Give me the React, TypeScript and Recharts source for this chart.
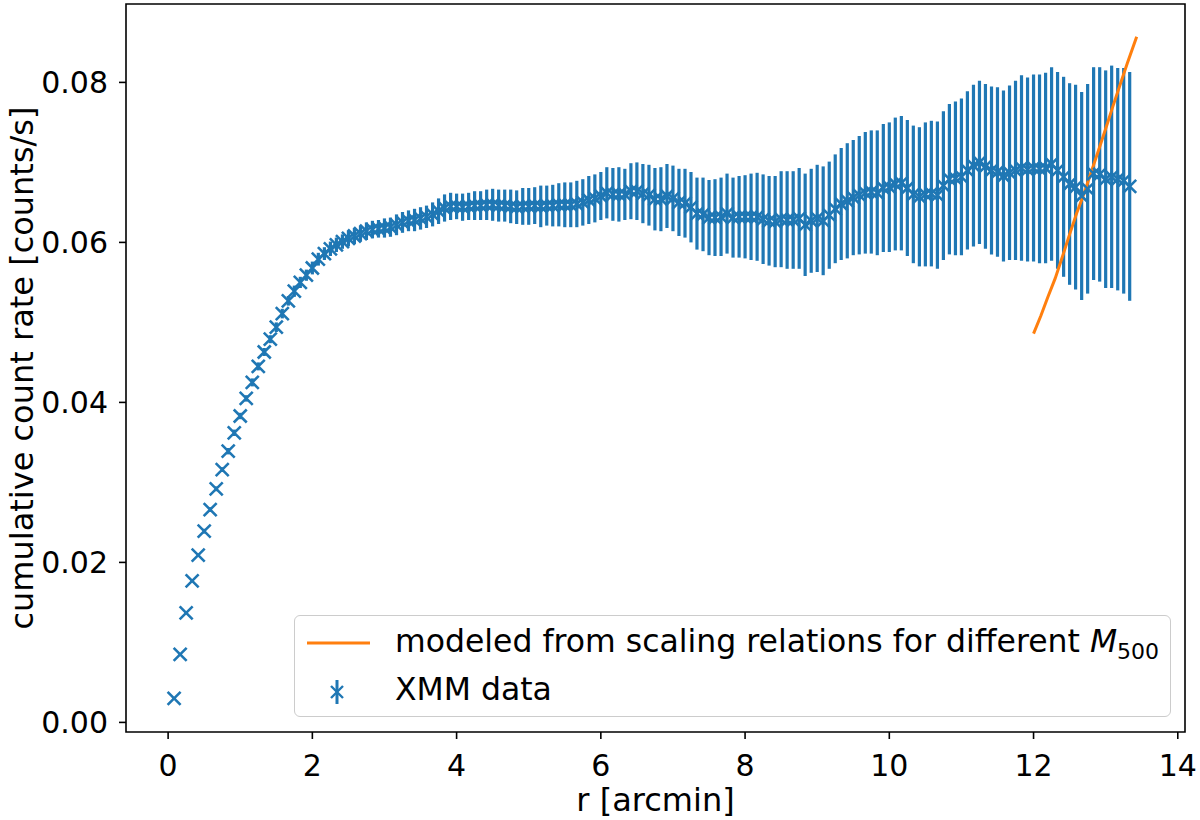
import React from 'react';
import { ComposedChart, Scatter, Line, XAxis, YAxis, ErrorBar, ReferenceArea, Legend, Label } from 'recharts';

// radial bins of 5 arcsec, in arcmin
const radius = [
  0.083, 0.167, 0.25, 0.333, 0.417, 0.5, 0.583, 0.667, 0.75, 0.833, 0.917, 1.0,
  1.083, 1.167, 1.25, 1.333, 1.417, 1.5, 1.583, 1.667, 1.75, 1.833, 1.917, 2.0,
  2.083, 2.167, 2.25, 2.333, 2.417, 2.5, 2.583, 2.667, 2.75, 2.833, 2.917, 3.0,
  3.083, 3.167, 3.25, 3.333, 3.417, 3.5, 3.583, 3.667, 3.75, 3.833, 3.917, 4.0,
  4.083, 4.167, 4.25, 4.333, 4.417, 4.5, 4.583, 4.667, 4.75, 4.833, 4.917, 5.0,
  5.083, 5.167, 5.25, 5.333, 5.417, 5.5, 5.583, 5.667, 5.75, 5.833, 5.917, 6.0,
  6.083, 6.167, 6.25, 6.333, 6.417, 6.5, 6.583, 6.667, 6.75, 6.833, 6.917, 7.0,
  7.083, 7.167, 7.25, 7.333, 7.417, 7.5, 7.583, 7.667, 7.75, 7.833, 7.917, 8.0,
  8.083, 8.167, 8.25, 8.333, 8.417, 8.5, 8.583, 8.667, 8.75, 8.833, 8.917, 9.0,
  9.083, 9.167, 9.25, 9.333, 9.417, 9.5, 9.583, 9.667, 9.75, 9.833, 9.917, 10.0,
  10.083, 10.167, 10.25, 10.333, 10.417, 10.5, 10.583, 10.667, 10.75, 10.833, 10.917, 11.0,
  11.083, 11.167, 11.25, 11.333, 11.417, 11.5, 11.583, 11.667, 11.75, 11.833, 11.917, 12.0,
  12.083, 12.167, 12.25, 12.333, 12.417, 12.5, 12.583, 12.667, 12.75, 12.833, 12.917, 13.0,
  13.083, 13.167, 13.25, 13.333,
];

const countRate = [
  0.0030, 0.0085, 0.0137, 0.0177, 0.0209, 0.0239, 0.0266, 0.0292, 0.0316, 0.0339, 0.0362, 0.0383,
  0.0405, 0.0425, 0.0445, 0.0463, 0.0479, 0.0494, 0.0511, 0.0527, 0.0539, 0.0550, 0.0559, 0.0568,
  0.0579, 0.0586, 0.0592, 0.0597, 0.0601, 0.0605, 0.0608, 0.0611, 0.0614, 0.0616, 0.0617, 0.0618,
  0.0619, 0.0622, 0.0625, 0.0627, 0.0628, 0.0630, 0.0632, 0.0635, 0.0639, 0.0643, 0.0645, 0.0645,
  0.0644, 0.0645, 0.0646, 0.0646, 0.0647, 0.0647, 0.0646, 0.0646, 0.0645, 0.0644, 0.0645, 0.0645,
  0.0646, 0.0645, 0.0646, 0.0646, 0.0647, 0.0647, 0.0647, 0.0648, 0.0650, 0.0653, 0.0655, 0.0658,
  0.0662, 0.0660, 0.0660, 0.0660, 0.0664, 0.0664, 0.0661, 0.0659, 0.0654, 0.0654, 0.0658, 0.0655,
  0.0650, 0.0649, 0.0644, 0.0636, 0.0635, 0.0631, 0.0631, 0.0632, 0.0636, 0.0631, 0.0632, 0.0632,
  0.0632, 0.0632, 0.0629, 0.0627, 0.0626, 0.0629, 0.0628, 0.0628, 0.0630, 0.0622, 0.0627, 0.0630,
  0.0627, 0.0634, 0.0642, 0.0648, 0.0652, 0.0656, 0.0659, 0.0662, 0.0663, 0.0662, 0.0668, 0.0669,
  0.0673, 0.0674, 0.0668, 0.0660, 0.0657, 0.0660, 0.0661, 0.0659, 0.0671, 0.0679, 0.0680, 0.0682,
  0.0690, 0.0696, 0.0700, 0.0695, 0.0690, 0.0688, 0.0683, 0.0687, 0.0690, 0.0693, 0.0691, 0.0693,
  0.0692, 0.0693, 0.0698, 0.0690, 0.0682, 0.0673, 0.0669, 0.0658, 0.0667, 0.0686, 0.0685, 0.0679,
  0.0682, 0.0679, 0.0677, 0.0670,
];

const countRateErr = [
  0.0001, 0.0001, 0.0002, 0.0002, 0.0002, 0.0003, 0.0003, 0.0003, 0.0003, 0.0004, 0.0004, 0.0004,
  0.0004, 0.0005, 0.0005, 0.0005, 0.0005, 0.0006, 0.0006, 0.0006, 0.0007, 0.0007, 0.0007, 0.0008,
  0.0008, 0.0008, 0.0009, 0.0009, 0.0009, 0.0010, 0.0010, 0.0010, 0.0011, 0.0011, 0.0011, 0.0012,
  0.0012, 0.0013, 0.0013, 0.0013, 0.0014, 0.0014, 0.0014, 0.0015, 0.0016, 0.0017, 0.0017, 0.0016,
  0.0017, 0.0017, 0.0018, 0.0018, 0.0019, 0.0020, 0.0020, 0.0020, 0.0021, 0.0021, 0.0023, 0.0023,
  0.0023, 0.0026, 0.0025, 0.0026, 0.0027, 0.0028, 0.0028, 0.0029, 0.0029, 0.0030, 0.0030, 0.0030,
  0.0032, 0.0033, 0.0034, 0.0032, 0.0035, 0.0036, 0.0037, 0.0038, 0.0039, 0.0040, 0.0040, 0.0041,
  0.0042, 0.0043, 0.0044, 0.0045, 0.0046, 0.0047, 0.0048, 0.0049, 0.0050, 0.0050, 0.0051, 0.0052,
  0.0054, 0.0055, 0.0056, 0.0056, 0.0057, 0.0060, 0.0061, 0.0061, 0.0063, 0.0064, 0.0065, 0.0067,
  0.0068, 0.0067, 0.0068, 0.0070, 0.0072, 0.0072, 0.0074, 0.0076, 0.0077, 0.0078, 0.0080, 0.0081,
  0.0083, 0.0084, 0.0085, 0.0086, 0.0087, 0.0090, 0.0091, 0.0092, 0.0093, 0.0094, 0.0096, 0.0098,
  0.0099, 0.0101, 0.0102, 0.0103, 0.0105, 0.0106, 0.0107, 0.0109, 0.0112, 0.0116, 0.0115, 0.0117,
  0.0118, 0.0119, 0.0121, 0.0123, 0.0125, 0.0126, 0.0128, 0.0130, 0.0131, 0.0133, 0.0134, 0.0136,
  0.0139, 0.0139, 0.0141, 0.0143,
];

// model curve from scaling relations (different M500)
const modelRadius = [12.0, 12.1, 12.2, 12.3, 12.4, 12.5, 12.6, 12.7, 12.8, 12.9, 13.0, 13.1, 13.2, 13.3, 13.43];
const modelRate = [0.0486, 0.0508, 0.0532, 0.0555, 0.0582, 0.0610, 0.0637, 0.0661, 0.0688, 0.0715, 0.0742, 0.0770, 0.0797, 0.0824, 0.0857];

const xTicks = [0, 2, 4, 6, 8, 10, 12, 14];
const yTicks = [0, 0.02, 0.04, 0.06, 0.08];

const X_DOMAIN = [-0.584, 14.1];
const Y_DOMAIN = [-0.0012, 0.0898];

const BLUE = '#1f77b4';
const ORANGE = '#ff7f0e';
const FONT = '"DejaVu Sans", sans-serif';
const TICK_FS = 30;
const LABEL_FS = 32;
const LEGEND_FS = 31.5;

const xmmData = radius.map((r, i) => ({ r, rate: countRate[i], err: countRateErr[i] }));
const modelData = modelRadius.map((r, i) => ({ r, rate: modelRate[i] }));

const XMarker = (props: any) => {
  const { cx, cy } = props;
  const s = 6.5;
  return (
    <path
      d={`M${cx - s},${cy - s}L${cx + s},${cy + s}M${cx - s},${cy + s}L${cx + s},${cy - s}`}
      stroke={BLUE}
      strokeWidth={2.6}
      fill="none"
    />
  );
};

const renderLegend = () => (
  <div
    style={{
      position: 'relative',
      width: 877,
      height: 102,
      boxSizing: 'border-box',
      border: '1.5px solid #cccccc',
      borderRadius: 6,
      background: 'rgba(255,255,255,0.8)',
      fontFamily: FONT,
      fontSize: LEGEND_FS,
      color: '#000',
    }}
  >
    <svg width={100} height={100} style={{ position: 'absolute', left: 0, top: 0 }}>
      <line x1={12} y1={27} x2={75} y2={27} stroke={ORANGE} strokeWidth={3} />
      <line x1={42} y1={64} x2={42} y2={88} stroke={BLUE} strokeWidth={3} />
      <path d="M36,70L48,82M36,82L48,70" stroke={BLUE} strokeWidth={2.4} fill="none" />
    </svg>
    <div style={{ position: 'absolute', left: 100, top: 7, lineHeight: '36px', whiteSpace: 'nowrap' }}>
      modeled from scaling relations for different <span style={{ fontStyle: 'italic' }}>M</span>
      <span style={{ fontSize: 22, position: 'relative', top: 7 }}>500</span>
    </div>
    <div style={{ position: 'absolute', left: 100, top: 55, lineHeight: '36px', whiteSpace: 'nowrap' }}>
      XMM data
    </div>
  </div>
);

export default function App() {
  return (
    <div style={{ width: 1200, height: 820, background: '#fff' }}>
      <style>{'body{margin:0}'}</style>
      <ComposedChart width={1200} height={820} margin={{ top: 4, right: 15, bottom: 0, left: 0 }}>
        <XAxis
          dataKey="r"
          type="number"
          domain={X_DOMAIN}
          ticks={xTicks}
          allowDataOverflow
          interval={0}
          height={88}
          axisLine={false}
          tickSize={7}
          tickMargin={16}
          tickLine={{ stroke: '#000', strokeWidth: 1.6 }}
          tick={{ fill: '#000', fontSize: TICK_FS, fontFamily: FONT }}
        >
          <Label value="r [arcmin]" position="insideBottom" offset={9} fill="#000" fontSize={LABEL_FS} fontFamily={FONT} />
        </XAxis>
        <YAxis
          type="number"
          domain={Y_DOMAIN}
          ticks={yTicks}
          allowDataOverflow
          interval={0}
          width={126}
          axisLine={false}
          tickSize={7}
          tickMargin={11}
          tickLine={{ stroke: '#000', strokeWidth: 1.6 }}
          tick={{ fill: '#000', fontSize: TICK_FS, fontFamily: FONT }}
          tickFormatter={(v: number) => v.toFixed(2)}
        >
          <Label
            value="cumulative count rate [counts/s]"
            angle={-90}
            position="center"
            dx={-41}
            fill="#000"
            fontSize={LABEL_FS}
            fontFamily={FONT}
          />
        </YAxis>
        <Scatter data={xmmData} dataKey="rate" shape={XMarker} isAnimationActive={false}>
          <ErrorBar dataKey="err" direction="y" width={0} stroke={BLUE} strokeWidth={3.2} isAnimationActive={false} />
        </Scatter>
        <Line
          data={modelData}
          dataKey="rate"
          type="linear"
          stroke={ORANGE}
          strokeWidth={3}
          dot={false}
          activeDot={false}
          isAnimationActive={false}
        />
        <ReferenceArea
          x1={X_DOMAIN[0]}
          x2={X_DOMAIN[1]}
          y1={Y_DOMAIN[0]}
          y2={Y_DOMAIN[1]}
          fill="none"
          fillOpacity={0}
          stroke="#000"
          strokeWidth={1.6}
        />
        <Legend
          layout="vertical"
          align="center"
          verticalAlign="middle"
          content={renderLegend}
          wrapperStyle={{ left: 294, top: 615, width: 877, height: 102 }}
        />
      </ComposedChart>
    </div>
  );
}
